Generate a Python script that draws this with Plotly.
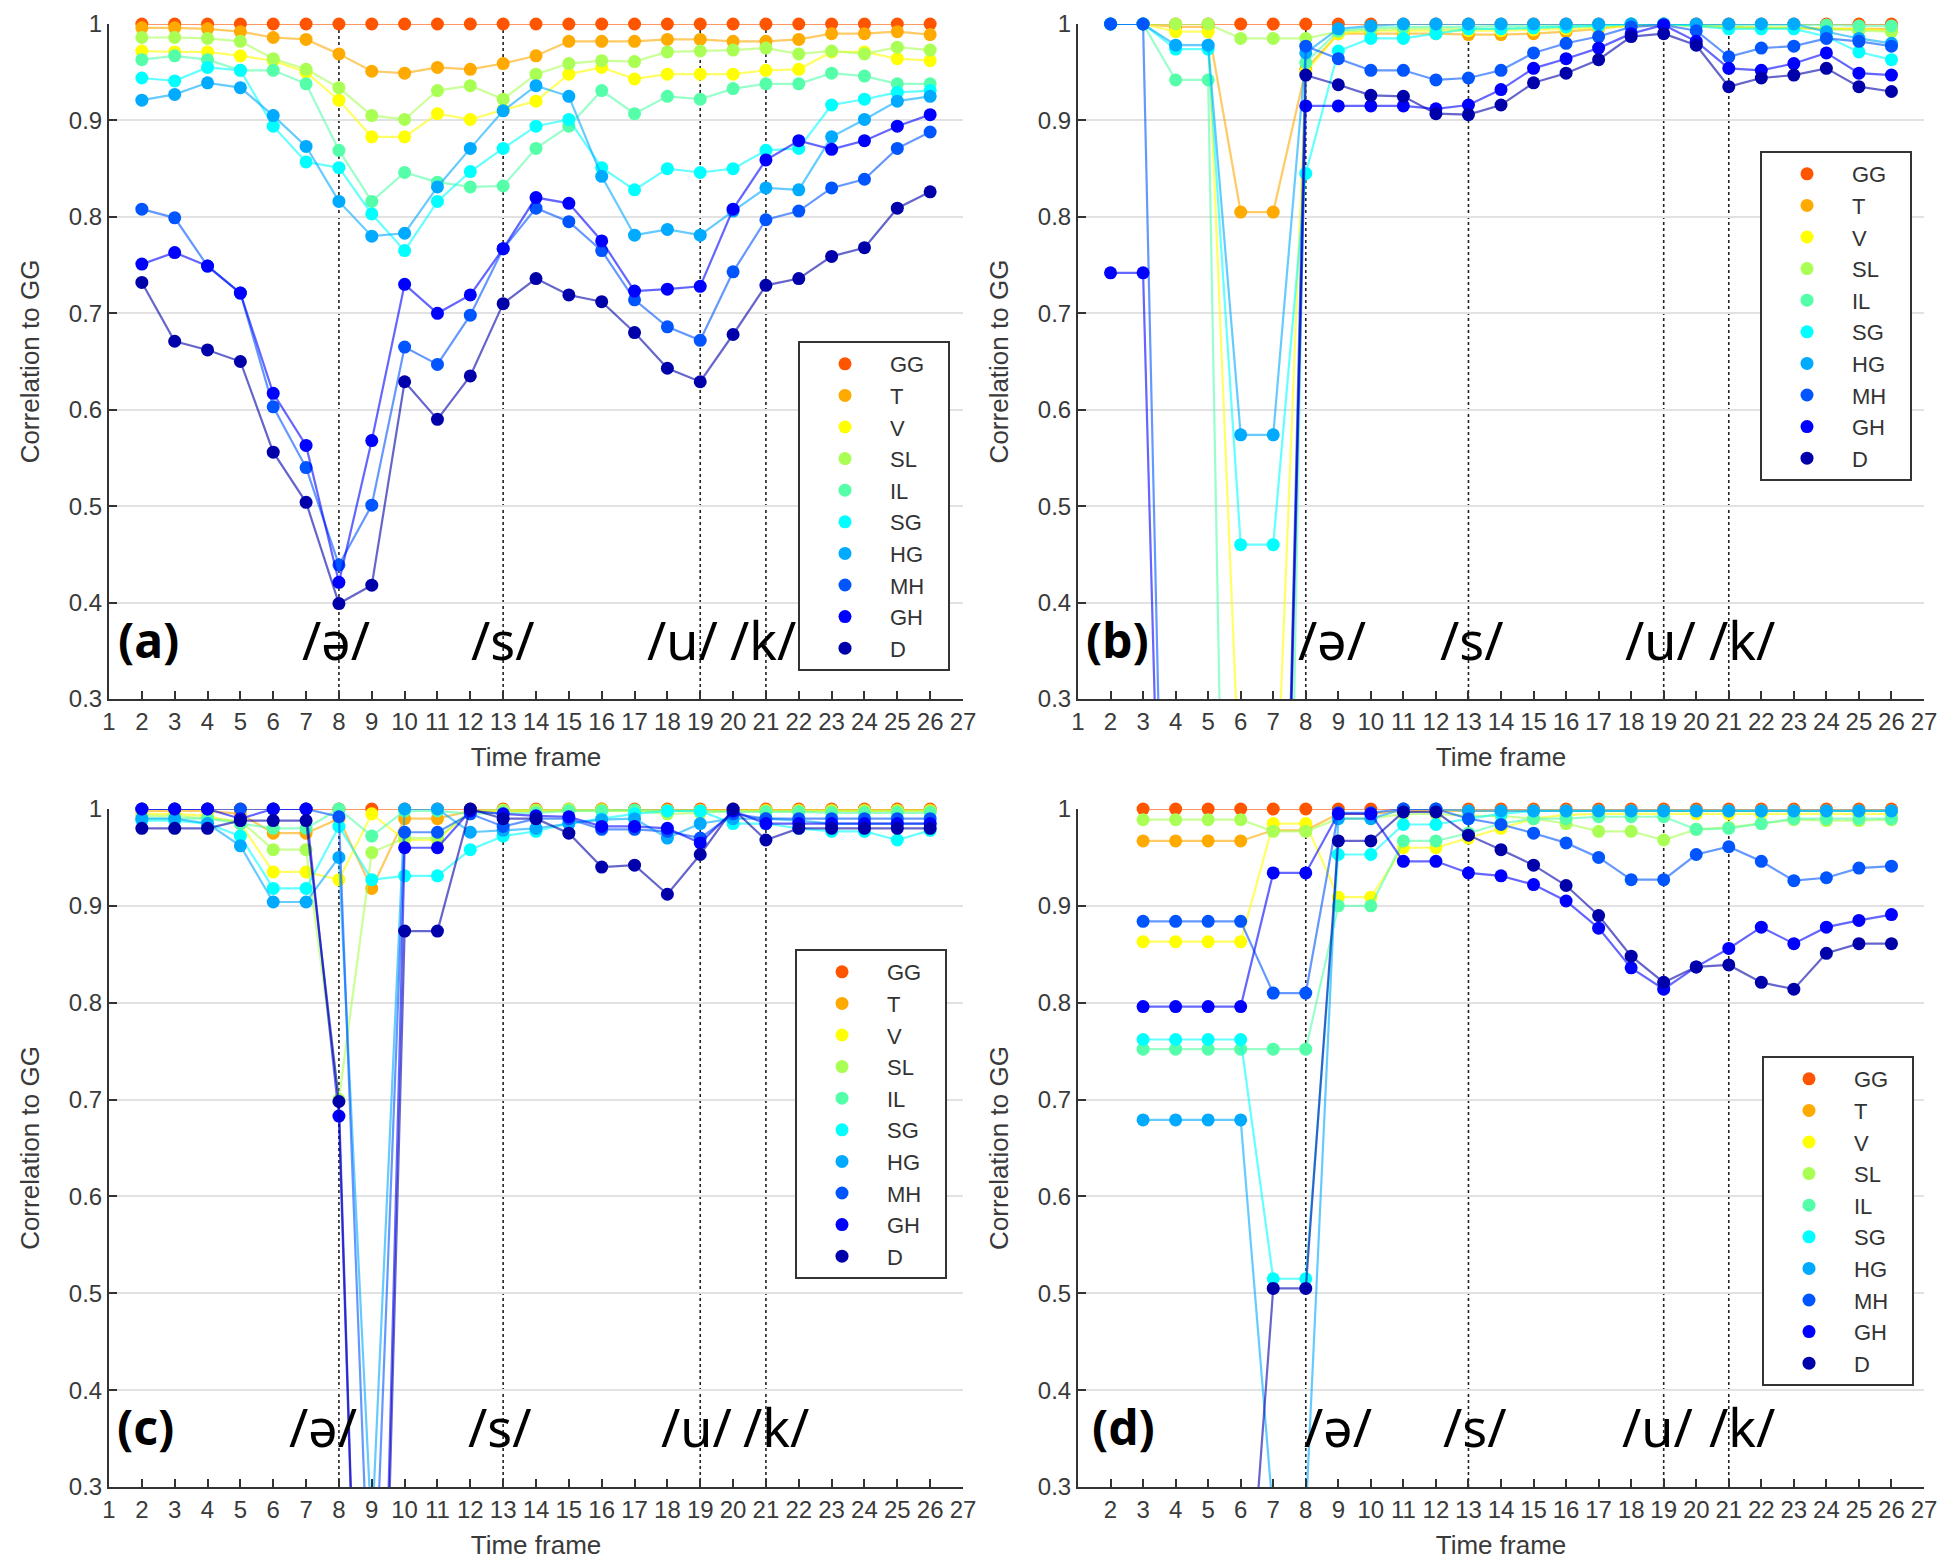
import plotly.graph_objects as go

# ---------------- data ----------------
FRAMES = [2, 3, 4, 5, 6, 7, 8, 9, 10, 11, 12, 13, 14, 15, 16, 17, 18, 19, 20, 21, 22, 23, 24, 25, 26]
SERIES = ["GG", "T", "V", "SL", "IL", "SG", "HG", "MH", "GH", "D"]
X_TICKS = [1, 2, 3, 4, 5, 6, 7, 8, 9, 10, 11, 12, 13, 14, 15, 16, 17, 18, 19, 20, 21, 22, 23, 24, 25, 26, 27]
X_TICK_TEXT = ["1", "2", "3", "4", "5", "6", "7", "8", "9", "10", "11", "12", "13", "14", "15", "16", "17",
               "18", "19", "20", "21", "22", "23", "24", "25", "26", "27"]
X_TICK_TEXT_D = [""] + X_TICK_TEXT[1:]
Y_TICKS = [0.3, 0.4, 0.5, 0.6, 0.7, 0.8, 0.9, 1.0]
Y_TICK_TEXT = ["0.3", "0.4", "0.5", "0.6", "0.7", "0.8", "0.9", "1"]
PHONEME_FRAMES = [8, 13, 19, 21]
PHONEMES = ["/ə/", "/s/", "/u/", "/k/"]
PANEL_LABELS = ["(a)", "(b)", "(c)", "(d)"]

# panel (a)
A_GG = [1.0, 1.0, 1.0, 1.0, 1.0, 1.0, 1.0, 1.0, 1.0, 1.0, 1.0, 1.0, 1.0, 1.0, 1.0, 1.0, 1.0, 1.0, 1.0, 1.0, 1.0, 1.0, 1.0, 1.0, 1.0]
A_T = [0.996, 0.996, 0.995, 0.992, 0.986, 0.984, 0.969, 0.951, 0.949, 0.955, 0.953, 0.959, 0.967, 0.982, 0.982, 0.982, 0.984, 0.984, 0.982, 0.982, 0.984, 0.990, 0.990, 0.992, 0.989]
A_V = [0.972, 0.971, 0.971, 0.967, 0.962, 0.950, 0.921, 0.883, 0.883, 0.907, 0.901, 0.911, 0.920, 0.948, 0.955, 0.943, 0.948, 0.948, 0.948, 0.952, 0.953, 0.971, 0.971, 0.964, 0.962]
A_SL = [0.986, 0.986, 0.985, 0.982, 0.964, 0.953, 0.934, 0.905, 0.901, 0.931, 0.936, 0.922, 0.948, 0.959, 0.962, 0.961, 0.971, 0.972, 0.973, 0.975, 0.969, 0.972, 0.969, 0.976, 0.973]
A_IL = [0.963, 0.967, 0.963, 0.952, 0.952, 0.938, 0.869, 0.816, 0.846, 0.836, 0.831, 0.832, 0.871, 0.894, 0.931, 0.907, 0.925, 0.922, 0.933, 0.938, 0.938, 0.949, 0.946, 0.938, 0.938]
A_SG = [0.944, 0.941, 0.955, 0.952, 0.894, 0.857, 0.851, 0.803, 0.765, 0.816, 0.847, 0.871, 0.894, 0.901, 0.851, 0.828, 0.850, 0.846, 0.850, 0.869, 0.871, 0.916, 0.922, 0.929, 0.931]
A_HG = [0.921, 0.927, 0.939, 0.934, 0.905, 0.873, 0.816, 0.780, 0.783, 0.831, 0.871, 0.910, 0.936, 0.925, 0.842, 0.781, 0.787, 0.781, 0.806, 0.830, 0.828, 0.883, 0.901, 0.920, 0.925]
A_MH = [0.808, 0.799, 0.749, 0.721, 0.603, 0.540, 0.439, 0.501, 0.665, 0.647, 0.698, 0.767, 0.809, 0.795, 0.765, 0.714, 0.686, 0.672, 0.743, 0.797, 0.806, 0.830, 0.839, 0.871, 0.888]
A_GH = [0.751, 0.763, 0.749, 0.721, 0.617, 0.563, 0.421, 0.568, 0.730, 0.700, 0.719, 0.767, 0.820, 0.814, 0.775, 0.723, 0.725, 0.728, 0.808, 0.859, 0.879, 0.870, 0.879, 0.894, 0.906]
A_D = [0.732, 0.671, 0.662, 0.650, 0.556, 0.504, 0.399, 0.418, 0.629, 0.590, 0.635, 0.710, 0.736, 0.719, 0.712, 0.680, 0.643, 0.629, 0.678, 0.729, 0.736, 0.759, 0.768, 0.809, 0.826]

# panel (b)
B_GG = [1.0, 1.0, 1.0, 1.0, 1.0, 1.0, 1.0, 1.0, 1.0, 1.0, 1.0, 1.0, 1.0, 1.0, 1.0, 1.0, 1.0, 1.0, 1.0, 1.0, 1.0, 1.0, 1.0, 1.0, 1.0]
B_T = [1.0, 1.0, 0.997, 0.997, 0.805, 0.805, 0.953, 0.990, 0.990, 0.990, 0.990, 0.989, 0.989, 0.990, 0.992, 0.995, 0.999, 1.0, 0.998, 0.997, 0.996, 0.996, 0.995, 0.995, 0.995]
B_V = [1.0, 1.0, 0.992, 0.992, 0.18, 0.10, 0.950, 0.990, 0.993, 0.993, 0.993, 0.993, 0.993, 0.994, 0.995, 0.996, 0.998, 0.999, 0.998, 0.996, 0.996, 0.996, 0.995, 0.995, 0.993]
B_SL = [1.0, 1.0, 1.0, 1.0, 0.985, 0.985, 0.985, 0.992, 0.994, 0.995, 0.995, 0.995, 0.995, 0.996, 0.997, 0.998, 0.999, 1.0, 0.998, 0.997, 0.996, 0.996, 0.995, 0.993, 0.992]
B_IL = [1.0, 1.0, 0.942, 0.942, -0.9, -0.9, 0.960, 0.993, 0.996, 0.997, 0.997, 0.997, 0.998, 0.998, 0.998, 0.999, 1.0, 1.0, 0.999, 0.999, 0.999, 0.999, 0.999, 0.998, 0.998]
B_SG = [1.0, 1.0, 0.974, 0.974, 0.460, 0.460, 0.845, 0.972, 0.985, 0.985, 0.990, 0.995, 0.995, 0.996, 0.997, 0.998, 1.0, 1.0, 0.998, 0.995, 0.995, 0.995, 0.987, 0.971, 0.963]
B_HG = [1.0, 1.0, 0.978, 0.978, 0.574, 0.574, 0.970, 0.995, 0.998, 1.0, 1.0, 1.0, 1.0, 1.0, 1.0, 1.0, 1.0, 1.0, 1.0, 1.0, 1.0, 1.0, 0.992, 0.985, 0.980]
B_MH = [1.0, 1.0, -0.5, -0.5, -0.5, -0.5, 0.977, 0.964, 0.952, 0.952, 0.942, 0.944, 0.952, 0.970, 0.980, 0.987, 0.997, 0.999, 0.993, 0.966, 0.975, 0.977, 0.985, 0.982, 0.977]
B_GH = [0.742, 0.742, -0.5, -0.5, -0.5, -0.5, 0.915, 0.915, 0.915, 0.915, 0.912, 0.916, 0.932, 0.954, 0.964, 0.975, 0.990, 0.999, 0.982, 0.954, 0.952, 0.959, 0.970, 0.949, 0.947]
B_D = [-0.5, -0.5, -0.5, -0.5, -0.5, -0.5, 0.947, 0.937, 0.926, 0.925, 0.907, 0.906, 0.916, 0.939, 0.949, 0.963, 0.987, 0.990, 0.978, 0.935, 0.944, 0.947, 0.954, 0.935, 0.930]

# panel (c)
C_GG = [1.0, 1.0, 1.0, 1.0, 1.0, 1.0, 1.0, 1.0, 1.0, 1.0, 1.0, 1.0, 1.0, 1.0, 1.0, 1.0, 1.0, 1.0, 1.0, 1.0, 1.0, 1.0, 1.0, 1.0, 1.0]
C_T = [0.998, 0.998, 0.998, 0.995, 0.975, 0.975, 0.990, 0.918, 0.990, 0.990, 0.998, 0.998, 0.998, 0.999, 1.0, 0.999, 0.999, 0.999, 0.999, 0.999, 0.999, 0.999, 0.999, 0.999, 0.999]
C_V = [0.995, 0.995, 0.993, 0.985, 0.935, 0.935, 0.927, 0.995, 0.968, 0.968, 0.998, 0.998, 0.998, 0.998, 0.998, 0.998, 0.998, 0.998, 0.998, 0.998, 0.998, 0.998, 0.998, 0.998, 0.998]
C_SL = [0.993, 0.993, 0.990, 0.988, 0.958, 0.958, 0.700, 0.955, 0.970, 0.970, 0.998, 0.999, 0.999, 1.0, 0.999, 0.998, 0.995, 0.996, 0.998, 0.998, 0.998, 0.998, 0.998, 0.998, 0.998]
C_IL = [0.990, 0.990, 0.990, 0.985, 0.980, 0.980, 1.0, 0.972, 0.998, 0.998, 0.995, 0.996, 0.996, 0.998, 0.998, 0.999, 0.998, 0.998, 0.997, 0.997, 0.997, 0.996, 0.996, 0.996, 0.996]
C_SG = [0.988, 0.988, 0.985, 0.972, 0.918, 0.918, 0.982, 0.927, 0.931, 0.931, 0.958, 0.972, 0.977, 0.985, 0.990, 0.995, 0.998, 0.998, 0.985, 0.985, 0.980, 0.977, 0.977, 0.968, 0.978]
C_HG = [0.990, 0.990, 0.985, 0.962, 0.904, 0.904, 0.950, 0.25, 1.0, 1.0, 0.976, 0.978, 0.980, 0.985, 0.989, 0.990, 0.970, 0.985, 0.990, 0.990, 0.988, 0.985, 0.985, 0.985, 0.985]
C_MH = [1.0, 1.0, 1.0, 1.0, 1.0, 1.0, 0.992, 0.10, 0.976, 0.976, 0.995, 0.982, 0.990, 0.990, 0.979, 0.979, 0.977, 0.970, 0.995, 0.990, 0.990, 0.990, 0.990, 0.990, 0.990]
C_GH = [1.0, 1.0, 1.0, 0.990, 1.0, 1.0, 0.683, -0.4, 0.960, 0.960, 0.998, 0.995, 0.993, 0.992, 0.982, 0.982, 0.980, 0.965, 0.998, 0.985, 0.985, 0.985, 0.985, 0.985, 0.985]
C_D = [0.980, 0.980, 0.980, 0.988, 0.988, 0.988, 0.698, -0.4, 0.874, 0.874, 1.0, 0.990, 0.990, 0.975, 0.940, 0.942, 0.912, 0.953, 1.0, 0.968, 0.980, 0.980, 0.980, 0.980, 0.980]

# panel (d)  (no value at frame 2)
D_GG = [None, 1.0, 1.0, 1.0, 1.0, 1.0, 1.0, 1.0, 1.0, 1.0, 1.0, 1.0, 1.0, 1.0, 1.0, 1.0, 1.0, 1.0, 1.0, 1.0, 1.0, 1.0, 1.0, 1.0, 1.0]
D_T = [None, 0.967, 0.967, 0.967, 0.967, 0.978, 0.978, 0.995, 0.995, 0.998, 0.998, 0.998, 0.998, 0.998, 0.998, 0.998, 0.998, 0.998, 0.998, 0.998, 0.998, 0.998, 0.998, 0.998, 0.998]
D_V = [None, 0.863, 0.863, 0.863, 0.863, 0.985, 0.985, 0.909, 0.909, 0.960, 0.960, 0.970, 0.980, 0.990, 0.994, 0.995, 0.995, 0.995, 0.995, 0.995, 0.995, 0.995, 0.995, 0.995, 0.995]
D_SL = [None, 0.989, 0.989, 0.989, 0.989, 0.977, 0.977, 0.990, 0.990, 0.995, 0.995, 0.993, 0.993, 0.990, 0.985, 0.977, 0.977, 0.968, 0.979, 0.981, 0.985, 0.989, 0.988, 0.988, 0.989]
D_IL = [None, 0.752, 0.752, 0.752, 0.752, 0.752, 0.752, 0.900, 0.900, 0.967, 0.967, 0.975, 0.985, 0.990, 0.990, 0.992, 0.992, 0.992, 0.979, 0.980, 0.985, 0.990, 0.990, 0.990, 0.990]
D_SG = [None, 0.762, 0.762, 0.762, 0.762, 0.515, 0.515, 0.953, 0.953, 0.984, 0.984, 0.990, 0.995, 0.998, 0.998, 0.998, 0.998, 0.998, 0.998, 0.998, 0.998, 0.998, 0.998, 0.998, 0.998]
D_HG = [None, 0.679, 0.679, 0.679, 0.679, 0.27, 0.27, 0.990, 0.990, 1.0, 1.0, 0.998, 0.998, 0.998, 0.998, 0.998, 0.998, 0.998, 0.998, 0.998, 0.998, 0.998, 0.998, 0.998, 0.998]
D_MH = [None, 0.884, 0.884, 0.884, 0.884, 0.810, 0.810, 0.996, 0.996, 1.0, 1.0, 0.990, 0.984, 0.975, 0.965, 0.950, 0.927, 0.927, 0.953, 0.961, 0.946, 0.926, 0.929, 0.939, 0.941]
D_GH = [None, 0.796, 0.796, 0.796, 0.796, 0.934, 0.934, 0.995, 0.995, 0.946, 0.946, 0.934, 0.931, 0.922, 0.905, 0.877, 0.836, 0.814, 0.837, 0.856, 0.878, 0.861, 0.878, 0.885, 0.891]
D_D = [None, 0.05, 0.05, 0.05, 0.05, 0.505, 0.505, 0.967, 0.967, 0.997, 0.997, 0.973, 0.958, 0.942, 0.921, 0.890, 0.848, 0.821, 0.837, 0.839, 0.821, 0.814, 0.851, 0.861, 0.861]

PANELS = [
    [A_GG, A_T, A_V, A_SL, A_IL, A_SG, A_HG, A_MH, A_GH, A_D],
    [B_GG, B_T, B_V, B_SL, B_IL, B_SG, B_HG, B_MH, B_GH, B_D],
    [C_GG, C_T, C_V, C_SL, C_IL, C_SG, C_HG, C_MH, C_GH, C_D],
    [D_GG, D_T, D_V, D_SL, D_IL, D_SG, D_HG, D_MH, D_GH, D_D],
]

# ---------------- styles / layout ----------------
COLORS = ["rgb(255,85,0)", "rgb(255,170,0)", "rgb(255,255,0)", "rgb(170,255,85)", "rgb(85,255,170)",
          "rgb(0,255,255)", "rgb(0,170,255)", "rgb(0,85,255)", "rgb(0,0,255)", "rgb(0,0,170)"]
W, H = 1950, 1568
X_DOMAINS = [[101 / W, 955 / W], [1070 / W, 1916 / W], [101 / W, 955 / W], [1070 / W, 1916 / W]]
Y_DOMAINS = [[1 - 691 / H, 1 - 16 / H], [1 - 691 / H, 1 - 16 / H],
             [1 - 1479 / H, 1 - 801 / H], [1 - 1479 / H, 1 - 801 / H]]
LEGEND_POS = [(942 / W, 1 - 333 / H), (1904 / W, 1 - 143 / H), (939 / W, 1 - 941 / H), (1906 / W, 1 - 1048 / H)]
LABEL_X = [
    [2.2, 7.9, 13.0, 18.45, 20.9],
    [2.2, 8.8, 13.1, 18.9, 21.4],
    [2.1, 7.5, 12.9, 18.9, 21.3],
    [2.4, 9.0, 13.2, 18.8, 21.4],
]
LABEL_Y = 0.362

AX_COLOR = "#333333"
FONT_FAM = "Liberation Sans, Arial, sans-serif"
TICK_FONT = dict(family=FONT_FAM, size=24, color="#3a3a3a")
TITLE_FONT = dict(family=FONT_FAM, size=26, color="#3a3a3a")
PAD = "\u00a0\u00a0\u00a0"

fig = go.Figure()

for p, series_vals in enumerate(PANELS):
    sfx = "" if p == 0 else str(p + 1)
    xa, ya = "x" + sfx, "y" + sfx
    leg = "legend" + sfx
    for name, vals, col in zip(SERIES, series_vals, COLORS):
        fig.add_trace(go.Scatter(
            x=FRAMES, y=vals, mode="lines", xaxis=xa, yaxis=ya,
            line=dict(color=col, width=2.2), opacity=0.6,
            showlegend=False, hoverinfo="skip"))
        vis = [v if (v is not None and v >= 0.3) else None for v in vals]
        fig.add_trace(go.Scatter(
            x=FRAMES, y=vis, mode="markers", xaxis=xa, yaxis=ya,
            marker=dict(color=col, size=13, line=dict(width=0)),
            cliponaxis=False, name=name + PAD, legend=leg, showlegend=True))

    fig.layout["xaxis" + sfx] = dict(
        domain=X_DOMAINS[p], anchor=ya, range=[1, 27], tickmode="array",
        tickvals=X_TICKS, ticktext=(X_TICK_TEXT_D if p == 3 else X_TICK_TEXT),
        ticks="inside", ticklen=8, tickwidth=1.5, tickcolor=AX_COLOR,
        showline=True, linecolor=AX_COLOR, linewidth=2, showgrid=False, zeroline=False,
        tickfont=TICK_FONT, title=dict(text="Time frame", font=TITLE_FONT, standoff=14),
        automargin=False)
    fig.layout["yaxis" + sfx] = dict(
        domain=Y_DOMAINS[p], anchor=xa, range=[0.3, 1.0], tickmode="array",
        tickvals=Y_TICKS, ticktext=Y_TICK_TEXT,
        ticks="inside", ticklen=8, tickwidth=1.5, tickcolor=AX_COLOR,
        showline=True, linecolor=AX_COLOR, linewidth=2,
        showgrid=True, gridcolor="#e2e2e2", gridwidth=2, zeroline=False,
        tickfont=TICK_FONT, title=dict(text="Correlation to GG", font=TITLE_FONT, standoff=22),
        automargin=False)

    lx, ly = LEGEND_POS[p]
    fig.layout[leg] = dict(
        x=lx, y=ly, xanchor="right", yanchor="top", xref="paper", yref="paper",
        bgcolor="white", bordercolor="#333333", borderwidth=2,
        font=dict(family=FONT_FAM, size=22, color="#333333"),
        itemwidth=80, tracegroupgap=0)

    for fr in PHONEME_FRAMES:
        fig.add_shape(type="line", xref=xa, yref=ya, x0=fr, x1=fr, y0=0.3, y1=1.0,
                      line=dict(color="#222222", width=1.6, dash="dot"), layer="below")

    texts = [PANEL_LABELS[p]] + PHONEMES
    for i, (t, lxp) in enumerate(zip(texts, LABEL_X[p])):
        fig.add_annotation(
            x=lxp, y=LABEL_Y, xref=xa, yref=ya, text=("<b>%s</b>" % t) if i == 0 else t,
            showarrow=False, xanchor="center", yanchor="middle",
            font=dict(family="Noto Sans, DejaVu Sans, sans-serif", size=(48 if i == 0 else 52), color="black"))

fig.update_layout(
    width=W, height=H, margin=dict(l=0, r=0, t=0, b=0),
    paper_bgcolor="white", plot_bgcolor="white",
)

fig.write_html("out.html")
